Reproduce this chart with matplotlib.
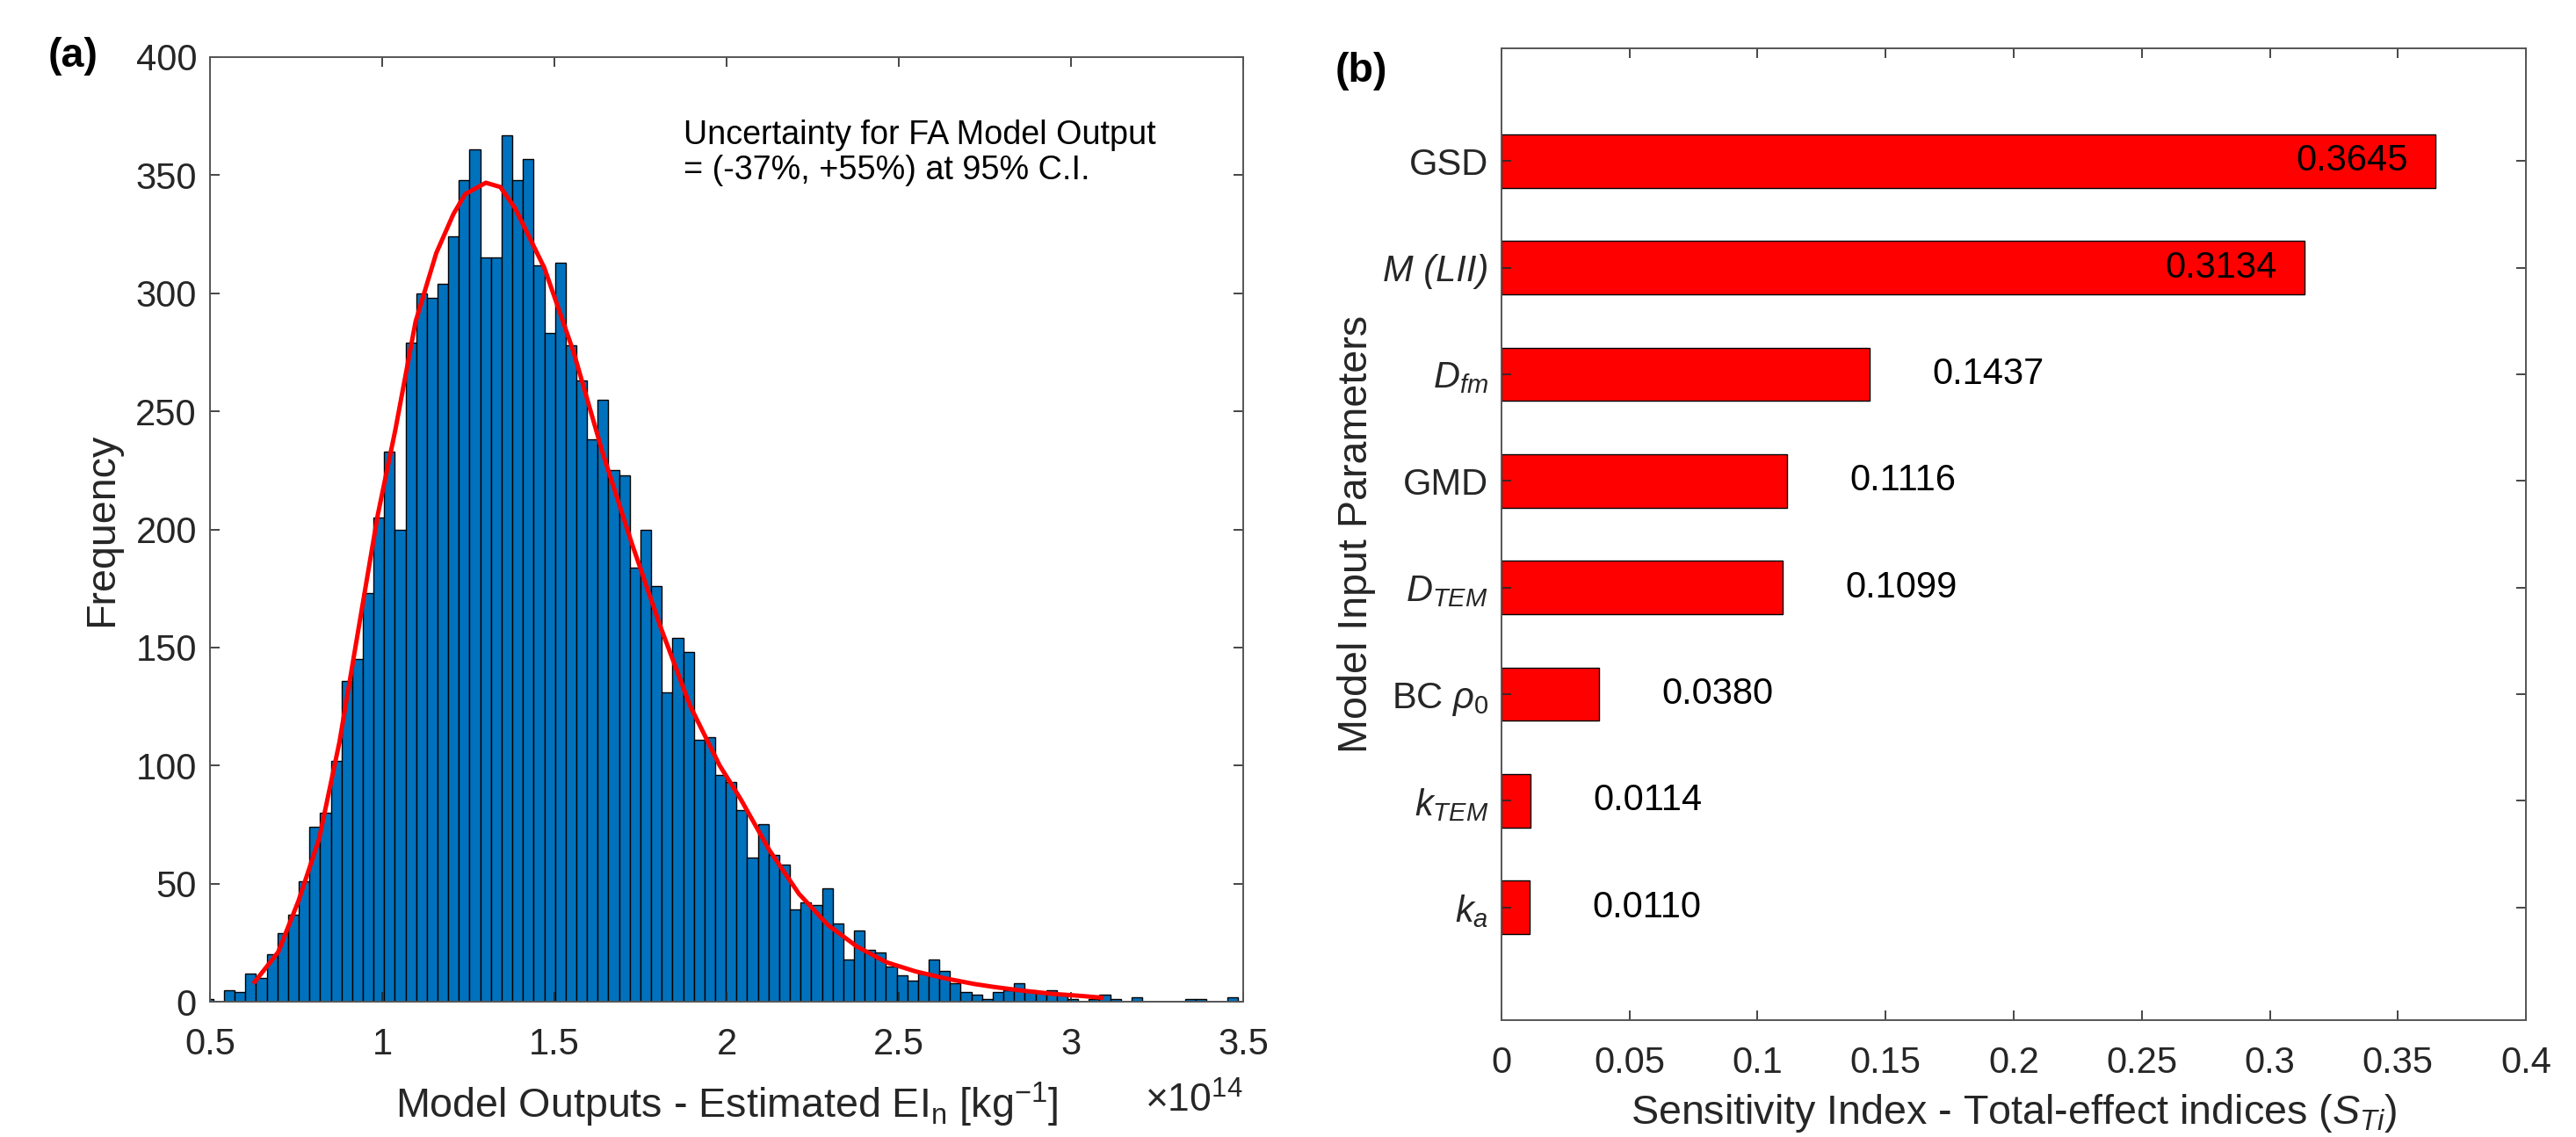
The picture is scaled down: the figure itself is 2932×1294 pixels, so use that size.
import numpy as np
import matplotlib.pyplot as plt
from matplotlib.ticker import FormatStrFormatter

plt.rcParams['font.family'] = ['Liberation Sans', 'DejaVu Sans']
plt.rcParams['mathtext.fontset'] = 'custom'
plt.rcParams['mathtext.rm'] = 'Liberation Sans'
plt.rcParams['mathtext.it'] = 'Liberation Sans:italic'
plt.rcParams['mathtext.bf'] = 'Liberation Sans:bold'

# (a) histogram of model outputs, x in units of 1e14 kg^-1
bin_start = 0.4788
bin_width = 0.031
counts = [1, 0,
          5, 4, 12, 10, 20, 29, 37, 51, 74, 80,
          102, 136, 145, 173, 205, 233, 200, 279, 300, 298,
          304, 324, 348, 361, 315, 315, 367, 348, 357, 312,
          283, 313, 278, 263, 238, 255, 225, 223, 184, 200,
          176, 131, 154, 148, 111, 112, 96, 93, 81, 61,
          75, 62, 58, 39, 42, 41, 48, 33, 18, 30,
          22, 21, 15, 11, 9, 12, 18, 13, 8, 4,
          3, 1, 4, 5, 8, 5, 4, 5, 3, 1,
          0, 1, 3, 1, 0, 2, 0, 0, 0, 0,
          1, 1, 0, 0, 2]

# fitted curve
fit_x = [0.630, 0.698, 0.757, 0.817, 0.876, 0.936, 0.987, 1.038, 1.097, 1.157,
         1.207, 1.241, 1.301, 1.343, 1.386, 1.471, 1.556, 1.641, 1.725, 1.810,
         1.895, 1.980, 2.040, 2.125, 2.210, 2.294, 2.379, 2.464, 2.549, 2.634,
         2.719, 2.778, 2.864, 2.948, 3.033, 3.089]
fit_y = [8.4, 21, 42.7, 69, 110, 162, 206, 242, 288, 317,
         333.6, 342, 346.8, 345, 336, 310.7, 275, 232, 194, 158,
         125, 100, 86, 64, 45.7, 32.5, 23.3, 16.7, 12.8, 9.9,
         7.5, 6.2, 4.6, 3.3, 2.4, 1.7]

# (b) total-effect sensitivity indices
params = ['GSD', 'M (LII)', r'$D_{fm}$', 'GMD', r'$D_{TEM}$',
          r'BC $\rho_0$', r'$k_{TEM}$', r'$k_a$']
s_ti = [0.3645, 0.3134, 0.1437, 0.1116, 0.1099, 0.0380, 0.0114, 0.0110]

W, H = 2932, 1294
fig = plt.figure(figsize=(W / 200, H / 200), dpi=200)

def fx(px):
    return px / W

def fy(py):
    return 1 - py / H

axcol = '#262626'

def style(ax):
    for s in ax.spines.values():
        s.set_color('#555555')
        s.set_linewidth(0.7)
    ax.tick_params(direction='in', top=True, right=True, length=4, width=0.6,
                   colors=axcol, labelsize=15)
    ax.tick_params(axis='x', pad=10.5)
    ax.tick_params(axis='y', pad=5.4)

# ---- panel (a)
ax1 = fig.add_axes([fx(239), fy(1140), fx(1415) - fx(239), fy(65) - fy(1140)])
edges = bin_start + bin_width * np.arange(len(counts))
ax1.bar(edges, counts, width=bin_width, align='edge', color='#0072BD',
        edgecolor='black', linewidth=0.5)
ax1.plot(fit_x, fit_y, color='red', lw=1.8)
ax1.set_xlim(0.5, 3.5)
ax1.set_ylim(0, 400)
ax1.set_xticks(np.arange(0.5, 3.51, 0.5))
ax1.set_yticks(np.arange(0, 401, 50))
ax1.xaxis.set_major_formatter(FormatStrFormatter('%g'))
style(ax1)
ax1.set_xlabel(r'Model Outputs - Estimated EI$_\mathrm{n}$ [kg$^{\mathrm{-1}}$]',
               fontsize=16.8, color=axcol)
ax1.xaxis.set_label_coords(0.5, (1140 - 1272) / (1140 - 65))
ax1.xaxis.label.set_va('baseline')
ax1.set_ylabel('Frequency', fontsize=16.8, color=axcol)
ax1.yaxis.set_label_coords((128 - 239) / (1415 - 239), 0.5)
ax1.yaxis.label.set_va('baseline')
fig.text(fx(1415), fy(1266), r'$\times10^{14}$', ha='right', va='baseline',
         fontsize=16, color=axcol)
fig.text(fx(778), fy(136), 'Uncertainty for FA Model Output\n= (-37%, +55%) at 95% C.I.',
         ha='left', va='top', fontsize=13.6, linespacing=1.15)
fig.text(fx(55), fy(64), '(a)', fontsize=16.8, fontweight='bold',
         ha='left', va='center')

# ---- panel (b)
ax2 = fig.add_axes([fx(1709), fy(1161), fx(2875) - fx(1709), fy(55) - fy(1161)])
ypos = np.arange(len(params))
ax2.barh(ypos, s_ti, height=0.5, color='#FF0000', edgecolor='black', linewidth=0.5)
for y, v in zip(ypos, s_ti):
    if v > 0.2:
        ax2.text(v - 0.0105, y, '%.4f' % v, ha='right', va='center', fontsize=15)
    else:
        ax2.text(v + 0.0245, y, '%.4f' % v, ha='left', va='center', fontsize=15)
ax2.set_xlim(0, 0.4)
ax2.set_ylim(len(params) - 1 + 1.056, -1.056)
ax2.set_xticks(np.arange(0, 0.401, 0.05))
ax2.xaxis.set_major_formatter(FormatStrFormatter('%g'))
ax2.set_yticks(ypos)
ax2.set_yticklabels(params)
ax2.get_yticklabels()[1].set_fontstyle('italic')
style(ax2)
ax2.set_xlabel(r'Sensitivity Index - Total-effect indices ($S_{Ti}$)',
               fontsize=16.8, color=axcol)
ax2.xaxis.set_label_coords(0.5, (1161 - 1279) / (1161 - 55))
ax2.xaxis.label.set_va('baseline')
ax2.set_ylabel('Model Input Parameters', fontsize=16.8, color=axcol)
ax2.yaxis.set_label_coords((1556 - 1709) / (2875 - 1709), 0.5)
ax2.yaxis.label.set_va('baseline')
fig.text(fx(1520), fy(81), '(b)', fontsize=16.8, fontweight='bold',
         ha='left', va='center')

fig.savefig('out.png', dpi=200)
